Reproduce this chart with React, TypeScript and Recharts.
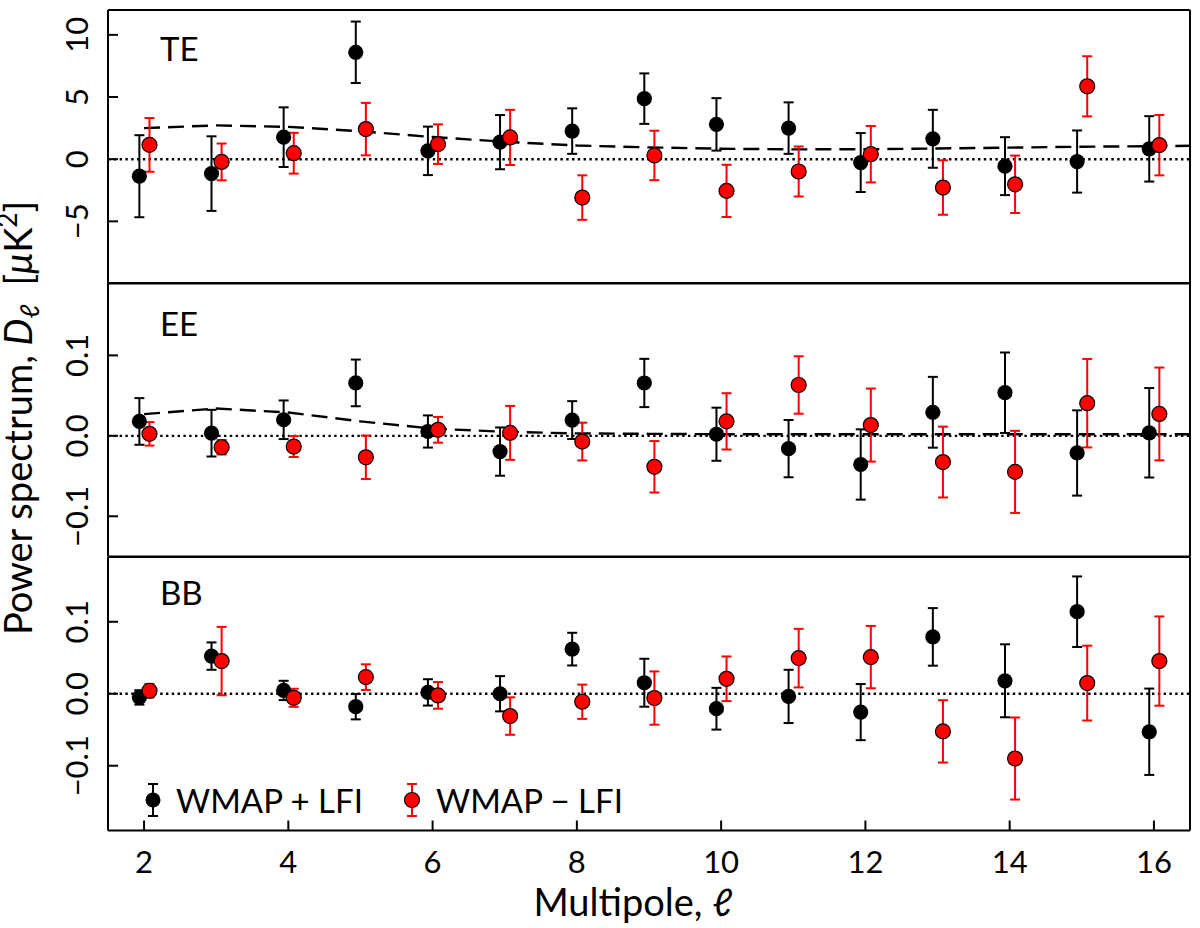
import {
  ComposedChart, Scatter, Line, XAxis, YAxis, ErrorBar,
  ReferenceLine, Legend, Customized
} from 'recharts'

const FONT = 'Lato, "DejaVu Sans", sans-serif'
const RED = '#ff0000'

// multipoles
const ELL = [2, 3, 4, 5, 6, 7, 8, 9, 10, 11, 12, 13, 14, 15, 16]
const ELL_MODEL = [2, 3, 4, 5, 6, 7, 8, 9, 10, 11, 12, 13, 14, 15, 16, 17]

// TE  [uK^2]
const TE_SUM = [-1.37, -1.16, 1.77, 8.6, 0.67, 1.37, 2.26, 4.87, 2.8, 2.5, -0.27, 1.64, -0.56, -0.19, 0.83]
const TE_SUM_ERR = [3.3, 3.0, 2.4, 2.47, 1.95, 2.18, 1.83, 2.03, 2.11, 2.07, 2.37, 2.33, 2.33, 2.5, 2.63]
const TE_DIFF = [1.15, -0.22, 0.48, 2.42, 1.21, 1.75, -3.09, 0.3, -2.55, -0.99, 0.4, -2.28, -2.02, 5.86, 1.13]
const TE_DIFF_ERR = [2.16, 1.48, 1.64, 2.11, 1.59, 2.22, 1.79, 1.99, 2.1, 2.01, 2.27, 2.19, 2.31, 2.42, 2.43]
const TE_MODEL = [2.5, 2.72, 2.6, 2.25, 1.78, 1.4, 1.1, 0.95, 0.84, 0.79, 0.8, 0.86, 0.93, 1.0, 1.05, 1.1]

// EE
const EE_SUM = [0.0179, 0.0033, 0.02, 0.0658, 0.0054, -0.0196, 0.0196, 0.0657, 0.002, -0.0159, -0.0356, 0.0293, 0.0536, -0.0213, 0.0038]
const EE_SUM_ERR = [0.029, 0.029, 0.024, 0.029, 0.02, 0.03, 0.0235, 0.03, 0.033, 0.0356, 0.0437, 0.044, 0.05, 0.053, 0.0556]
const EE_DIFF = [0.0025, -0.0142, -0.0133, -0.0267, 0.0075, 0.0037, -0.0071, -0.0385, 0.018, 0.0632, 0.0134, -0.0326, -0.0448, 0.0406, 0.0272]
const EE_DIFF_ERR = [0.0146, 0.009, 0.013, 0.027, 0.016, 0.0335, 0.0235, 0.032, 0.035, 0.0357, 0.0454, 0.044, 0.051, 0.055, 0.0577]
const EE_MODEL = [0.027, 0.034, 0.029, 0.018, 0.009, 0.005, 0.003, 0.0025, 0.002, 0.002, 0.002, 0.002, 0.002, 0.002, 0.002, 0.002]

// BB
const BB_SUM = [-0.0051, 0.0523, 0.0046, -0.018, 0.0019, 0.0, 0.062, 0.0153, -0.0208, -0.0037, -0.0255, 0.079, 0.018, 0.114, -0.0528]
const BB_SUM_ERR = [0.01, 0.019, 0.0134, 0.0176, 0.0183, 0.0245, 0.0227, 0.0333, 0.029, 0.037, 0.039, 0.04, 0.0507, 0.049, 0.06]
const BB_DIFF = [0.0042, 0.0454, -0.0056, 0.0231, -0.0023, -0.031, -0.0111, -0.006, 0.0208, 0.0495, 0.0509, -0.0523, -0.09, 0.0148, 0.0454]
const BB_DIFF_ERR = [0.0095, 0.0475, 0.0125, 0.0178, 0.0185, 0.026, 0.0238, 0.037, 0.031, 0.0407, 0.0433, 0.0433, 0.057, 0.052, 0.062]

const X_TICKS = [2, 4, 6, 8, 10, 12, 14, 16]
const TE_TICKS = [-5, 0, 5, 10]
const POL_TICKS = [-0.1, 0, 0.1]
const SERIES = ['WMAP + LFI', 'WMAP \u2212 LFI']

// layout
const W = 1200
const PLOT_L = 108
const PLOT_R = 1190
const PAD = 6
const PANEL_H = 273.5
const BOTTOM_H = 98
const X_DOMAIN = [1.5, 16.5]
const SHIFT_SUM = -0.065
const SHIFT_DIFF = 0.075

const AXIS = { stroke: '#000', strokeWidth: 2 }

const rows = (vals: number[], errs: number[], shift: number) =>
  ELL.map((l, i) => ({ x: l + shift, y: vals[i], err: errs[i] }))

const modelRows = (vals: number[]) => ELL_MODEL.map((l, i) => ({ x: l, y: vals[i] }))

const fmtInt = (v: number) => (v < 0 ? '\u2212' + Math.abs(v) : String(v))
const fmtDec = (v: number) => (v < 0 ? '\u2212' : '') + Math.abs(v).toFixed(1)

function BlackDot(p: any) {
  return <circle cx={p.cx} cy={p.cy} r={7.6} fill="#000" />
}

function RedDot(p: any) {
  return <circle cx={p.cx} cy={p.cy} r={7.5} fill={RED} stroke="#000" strokeWidth={1.2} />
}

function XTick(p: any) {
  return (
    <text x={p.x} y={p.y + 52} textAnchor="middle" fontSize={31} fontFamily={FONT} fill="#000">
      {p.payload.value}
    </text>
  )
}

function YTick(p: any) {
  const x = p.x - 30
  return (
    <text x={x} y={p.y} transform={`rotate(-90 ${x} ${p.y})`} textAnchor="middle"
      fontSize={31} fontFamily={FONT} fill="#000">
      {p.fmt(p.payload.value)}
    </text>
  )
}

function Tag({ text, y }: { text: string; y: number }) {
  return <text x={160} y={y} fontSize={33} fontFamily={FONT} fill="#000">{text}</text>
}

// shared y title, spans all three panels
function YTitle() {
  return (
    <svg width={70} height={928} style={{ position: 'absolute', left: 0, top: 0, pointerEvents: 'none' }}>
      <text transform="translate(32 418) rotate(-90)" textAnchor="middle" fontSize={38} fontFamily={FONT} fill="#000">
        Power spectrum,{' '}
        <tspan fontStyle="italic">D</tspan>
        <tspan fontSize={26} dy={7}>ℓ</tspan>
        <tspan dy={-7}>{'\u2002['}</tspan>
        <tspan fontStyle="italic">μ</tspan>
        <tspan>K</tspan>
        <tspan fontSize={26} dy={-15}>2</tspan>
        <tspan dy={15}>]</tspan>
      </text>
    </svg>
  )
}

function XTitle() {
  return (
    <text x={633} y={364.5} textAnchor="middle" fontSize={38} fontFamily={FONT} fill="#000">
      Multipole, ℓ
    </text>
  )
}

function LegendBox() {
  const marker = (cx: number, color: string, edge: boolean) => (
    <g>
      <line x1={cx} y1={9} x2={cx} y2={41} stroke={color} strokeWidth={2} />
      <line x1={cx - 5} y1={9} x2={cx + 5} y2={9} stroke={color} strokeWidth={2} />
      <line x1={cx - 5} y1={41} x2={cx + 5} y2={41} stroke={color} strokeWidth={2} />
      <circle cx={cx} cy={25} r={7.5} fill={color} stroke={edge ? '#000' : 'none'} strokeWidth={1.2} />
    </g>
  )
  return (
    <svg width={520} height={50} style={{ display: 'block' }}>
      {marker(12, '#000', false)}
      <text x={35} y={38} fontSize={33} fontFamily={FONT} fill="#000">{SERIES[0]}</text>
      {marker(271, RED, true)}
      <text x={295} y={38} fontSize={33} fontFamily={FONT} fill="#000">{SERIES[1]}</text>
    </svg>
  )
}

interface PanelProps {
  top: number
  tag: string
  tagY: number
  yDomain: number[]
  yTicks: number[]
  fmt: (v: number) => string
  sum: number[]
  sumErr: number[]
  diff: number[]
  diffErr: number[]
  model?: number[]
  bottom?: boolean
}

function Panel(props: PanelProps) {
  const { top, tag, tagY, yDomain, yTicks, fmt, sum, sumErr, diff, diffErr, model, bottom } = props
  const h = PAD + PANEL_H + (bottom ? BOTTOM_H : PAD)
  return (
    <div style={{ position: 'absolute', left: 0, top: top - PAD, width: W, height: h }}>
      <ComposedChart width={W} height={h}
        margin={{ top: PAD - 1, right: 0, bottom: bottom ? 0 : PAD - 1, left: 0 }}>
        <XAxis xAxisId="b" dataKey="x" type="number" domain={X_DOMAIN} ticks={X_TICKS} interval={0}
          allowDataOverflow orientation="bottom" height={bottom ? BOTTOM_H : 1}
          tickSize={-10} tickMargin={0} axisLine={AXIS} tickLine={AXIS}
          tick={bottom ? <XTick /> : false} />
        <XAxis xAxisId="t" dataKey="x" type="number" domain={X_DOMAIN} ticks={X_TICKS} interval={0}
          allowDataOverflow orientation="top" height={1}
          tickSize={-10} tickMargin={0} axisLine={AXIS} tickLine={AXIS} tick={false} />
        <YAxis yAxisId="l" dataKey="y" type="number" domain={yDomain} ticks={yTicks} interval={0}
          allowDataOverflow width={PLOT_L} tickSize={-10} tickMargin={0}
          axisLine={AXIS} tickLine={AXIS} tick={<YTick fmt={fmt} />} />
        <YAxis yAxisId="r" orientation="right" type="number" domain={yDomain} ticks={yTicks} interval={0}
          allowDataOverflow width={W - PLOT_R} tickSize={-9} tickMargin={0}
          axisLine={AXIS} tickLine={AXIS} tick={false} />
        <ReferenceLine xAxisId="b" yAxisId="l" y={0} stroke="#000" strokeWidth={2.4} strokeDasharray="2.4 3.4" />
        {model && (
          <Line xAxisId="b" yAxisId="l" data={modelRows(model)} dataKey="y" type="linear"
            stroke="#000" strokeWidth={2.4} strokeDasharray="16 8" dot={false} activeDot={false}
            legendType="none" isAnimationActive={false} />
        )}
        <Scatter xAxisId="b" yAxisId="l" name={SERIES[0]} data={rows(sum, sumErr, SHIFT_SUM)}
          fill="#000" shape={BlackDot} isAnimationActive={false}>
          <ErrorBar dataKey="err" direction="y" width={5} stroke="#000" strokeWidth={2} isAnimationActive={false} />
        </Scatter>
        <Scatter xAxisId="b" yAxisId="l" name={SERIES[1]} data={rows(diff, diffErr, SHIFT_DIFF)}
          fill={RED} shape={RedDot} isAnimationActive={false}>
          <ErrorBar dataKey="err" direction="y" width={5} stroke={RED} strokeWidth={2} isAnimationActive={false} />
        </Scatter>
        <Customized component={<Tag text={tag} y={PAD + tagY} />} />
        {bottom && <Customized component={<XTitle />} />}
        {bottom && (
          <Legend layout="vertical" align="center" verticalAlign="middle" content={<LegendBox />}
            wrapperStyle={{ left: 141, top: 224.5, width: 520, height: 50, right: 'auto', bottom: 'auto', margin: 0, padding: 0 }} />
        )}
      </ComposedChart>
    </div>
  )
}

export default function App() {
  return (
    <div style={{ position: 'absolute', left: 0, top: 0, width: W, height: 928, background: '#fff', overflow: 'hidden' }}>
      <Panel top={9.5} tag="TE" tagY={50.5} yDomain={[-10, 12]} yTicks={TE_TICKS} fmt={fmtInt}
        sum={TE_SUM} sumErr={TE_SUM_ERR} diff={TE_DIFF} diffErr={TE_DIFF_ERR} model={TE_MODEL} />
      <Panel top={283} tag="EE" tagY={53} yDomain={[-0.15, 0.19]} yTicks={POL_TICKS} fmt={fmtDec}
        sum={EE_SUM} sumErr={EE_SUM_ERR} diff={EE_DIFF} diffErr={EE_DIFF_ERR} model={EE_MODEL} />
      <Panel top={556.5} tag="BB" tagY={47.5} yDomain={[-0.19, 0.19]} yTicks={POL_TICKS} fmt={fmtDec}
        sum={BB_SUM} sumErr={BB_SUM_ERR} diff={BB_DIFF} diffErr={BB_DIFF_ERR} bottom />
      <YTitle />
    </div>
  )
}
